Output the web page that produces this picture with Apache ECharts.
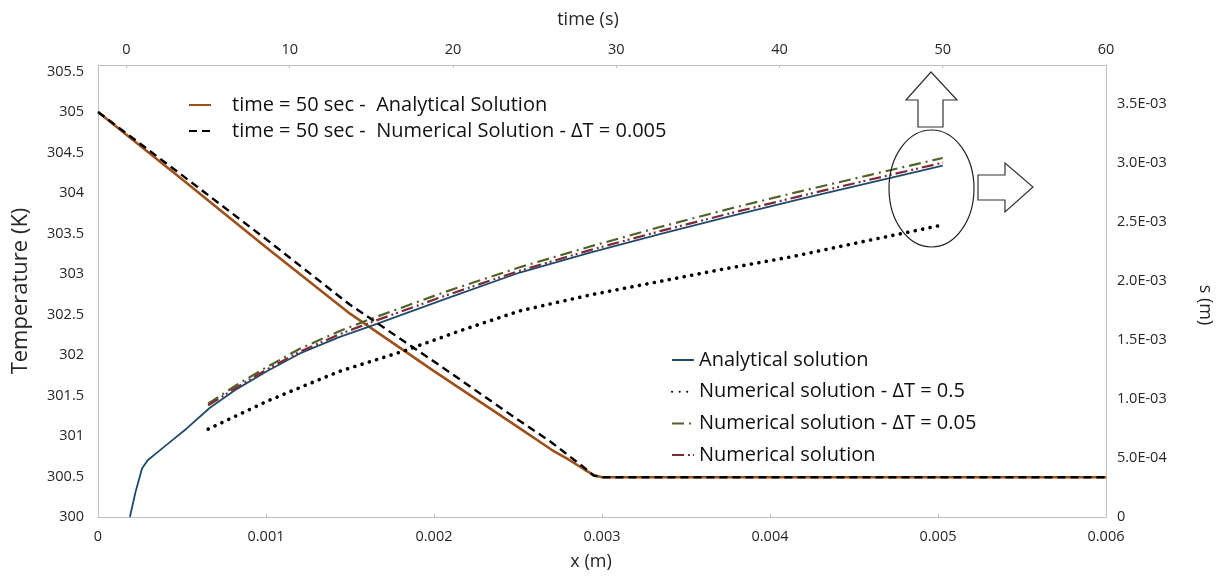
<!DOCTYPE html>
<html>
<head>
<meta charset="utf-8">
<script src="https://cdn.jsdelivr.net/npm/echarts@6/dist/echarts.min.js"></script>
<style>
html,body{margin:0;padding:0;background:#fff;}
#chart{width:1222px;height:576px;}
</style>
</head>
<body>
<div id="chart"></div>
<script>
// ---- Temperature profile at t = 50 s (bottom x axis, left y axis) ----
const xPos = [0, 0.0005, 0.001, 0.0015, 0.002, 0.0025, 0.0027, 0.0028, 0.0029, 0.00295, 0.003, 0.004, 0.005, 0.006];
const tempAnalytical = [305.0, 304.17, 303.33, 302.51, 301.80, 301.11, 300.83, 300.71, 300.58, 300.52, 300.49, 300.49, 300.49, 300.49];
const tempNumerical  = [305.0, 304.22, 303.43, 302.62, 301.92, 301.20, 300.92, 300.76, 300.60, 300.51, 300.49, 300.49, 300.49, 300.49];

// ---- Interface position s(t) (top x axis, right y axis) ----
const timeAnalytical = [0.21, 0.55, 0.95, 1.3, 1.87, 2.66, 3.71, 5.11, 6.77, 8.6, 10.62, 13.07, 14.91, 19.5, 24.09, 28.4, 32.67, 36.95, 41.2, 45.5, 50];
const sAnalytical = [0, 0.00021, 0.00041, 0.00048, 0.000545, 0.000634, 0.000752, 0.000925, 0.001085, 0.001234, 0.001385, 0.001525, 0.001614, 0.001845, 0.00207, 0.002239, 0.002395, 0.002545, 0.00269, 0.00283, 0.002974];

const timeNum = [5.0, 6.77, 8.6, 10.62, 13.07, 14.91, 19.5, 24.09, 28.4, 32.67, 36.95, 41.2, 45.5, 50];
const sNum005 = [0.00096, 0.00112, 0.00127, 0.001425, 0.001575, 0.001675, 0.001905, 0.002115, 0.00229, 0.002455, 0.00261, 0.002755, 0.002895, 0.00304];
const sNumerical = [0.000945, 0.0011, 0.00125, 0.0014, 0.001548, 0.001645, 0.001873, 0.002085, 0.00226, 0.00242, 0.00257, 0.002715, 0.002855, 0.0030];

const timeNum05 = [5.0, 8.6, 11.85, 13.07, 16.93, 20.5, 24.09, 28.4, 32.5, 36.6, 40.8, 45.4, 49.8];
const sNum05 = [0.000744, 0.00098, 0.001166, 0.001234, 0.001403, 0.00158, 0.001745, 0.00188, 0.00199, 0.0021, 0.002205, 0.00234, 0.002467];

// ---- tick labels ----
const xTicks = [0, 0.001, 0.002, 0.003, 0.004, 0.005, 0.006];
const timeTicks = [0, 10, 20, 30, 40, 50, 60];
const tempTicks = [300, 300.5, 301, 301.5, 302, 302.5, 303, 303.5, 304, 304.5, 305, 305.5];
const sTicks = [0, 0.0005, 0.001, 0.0015, 0.002, 0.0025, 0.003, 0.0035];

const zip = (a, b) => a.map((v, i) => [v, b[i]]);
function sci(v) {
  if (Math.abs(v) < 1e-12) return '0';
  const e = Math.floor(Math.log10(v) + 1e-9);
  const m = v / Math.pow(10, e);
  return m.toFixed(1) + 'E-' + String(-e).padStart(2, '0');
}

const FONT = '"Open Sans", "Noto Sans", sans-serif';
const TXT = '#262626';
const AXC = '#BFBFBF';

const chart = echarts.init(document.getElementById('chart'), null, {renderer: 'canvas'});
const option = {
  backgroundColor: '#ffffff',
  animation: false,
  textStyle: {fontFamily: FONT},
  grid: {left: 98, right: 116, top: 65, bottom: 58, containLabel: false},
  xAxis: [
    {
      type: 'value', position: 'bottom', min: 0, max: 0.006,
      name: 'x (m)', nameLocation: 'middle', nameGap: 36,
      nameTextStyle: {fontSize: 18, color: TXT, fontFamily: FONT, padding: [0, 22, 0, 0]},
      axisLine: {show: true, onZero: false, lineStyle: {color: AXC, width: 1}},
      axisTick: {show: true, inside: true, length: 3, customValues: xTicks, lineStyle: {color: AXC}},
      axisLabel: {customValues: xTicks, margin: 12, fontSize: 14.5, color: TXT, fontFamily: FONT,
        formatter: v => (Math.abs(v) < 1e-12 ? '0' : v.toFixed(3))},
      splitLine: {show: false}
    },
    {
      type: 'value', position: 'top', min: -1.745, max: 60,
      name: 'time (s)', nameLocation: 'middle', nameGap: 36,
      nameTextStyle: {fontSize: 18, color: TXT, fontFamily: FONT, padding: [0, 28, 0, 0]},
      axisLine: {show: true, onZero: false, lineStyle: {color: AXC, width: 1}},
      axisTick: {show: true, inside: true, length: 3, customValues: timeTicks, lineStyle: {color: AXC}},
      axisLabel: {customValues: timeTicks, margin: 8, fontSize: 14.5, color: TXT, fontFamily: FONT},
      splitLine: {show: false}
    }
  ],
  yAxis: [
    {
      type: 'value', position: 'left', min: 300, max: 305.58,
      name: 'Temperature (K)', nameLocation: 'middle', nameGap: 66, nameRotate: 90,
      nameTextStyle: {fontSize: 22, color: TXT, fontFamily: FONT},
      axisLine: {show: true, onZero: false, lineStyle: {color: AXC, width: 1}},
      axisTick: {show: false},
      axisLabel: {customValues: tempTicks, margin: 14, fontSize: 14.5, color: TXT, fontFamily: FONT},
      splitLine: {show: false}
    },
    {
      type: 'value', position: 'right', min: 0, max: 0.003827,
      name: 's (m)', nameLocation: 'middle', nameGap: 90, nameRotate: -90,
      nameTextStyle: {fontSize: 18, color: TXT, fontFamily: FONT, padding: [0, 0, 0, 28]},
      axisLine: {show: true, onZero: false, lineStyle: {color: AXC, width: 1}},
      axisTick: {show: false},
      axisLabel: {customValues: sTicks, margin: 11, fontSize: 14.5, color: TXT, fontFamily: FONT, formatter: sci},
      splitLine: {show: false}
    }
  ],
  legend: [
    {
      data: ['time = 50 sec -  Analytical Solution', 'time = 50 sec -  Numerical Solution - ΔT = 0.005'],
      orient: 'vertical', left: 183, top: 89, itemWidth: 22, itemHeight: 12, itemGap: 4,
      itemStyle: {opacity: 0},
      textStyle: {fontSize: 20, color: '#111', fontFamily: FONT, lineHeight: 22, padding: [0, 0, 0, 16]}
    },
    {
      data: ['Analytical solution', 'Numerical solution - ΔT = 0.5', 'Numerical solution - ΔT = 0.05', 'Numerical solution'],
      orient: 'vertical', left: 666, top: 344, itemWidth: 22, itemHeight: 12, itemGap: 9.7,
      itemStyle: {opacity: 0},
      textStyle: {fontSize: 20, color: '#111', fontFamily: FONT, lineHeight: 22}
    }
  ],
  series: [
    {
      name: 'time = 50 sec -  Analytical Solution', type: 'line', xAxisIndex: 0, yAxisIndex: 0,
      data: zip(xPos, tempAnalytical), showSymbol: false, symbol: 'none', smooth: false,
      lineStyle: {color: '#A0501C', width: 2.6}, itemStyle: {color: '#A0501C'}, z: 3
    },
    {
      name: 'time = 50 sec -  Numerical Solution - ΔT = 0.005', type: 'line', xAxisIndex: 0, yAxisIndex: 0,
      data: zip(xPos, tempNumerical), showSymbol: false, symbol: 'none', smooth: false,
      lineStyle: {color: '#000', width: 2.4, type: [8, 5]}, itemStyle: {color: '#000'}, z: 4
    },
    {
      name: 'Analytical solution', type: 'line', xAxisIndex: 1, yAxisIndex: 1,
      data: zip(timeAnalytical, sAnalytical), showSymbol: false, symbol: 'none', smooth: false,
      lineStyle: {color: '#1F4A6E', width: 1.8}, itemStyle: {color: '#1F4A6E'}, z: 3
    },
    {
      name: 'Numerical solution - ΔT = 0.5', type: 'line', xAxisIndex: 1, yAxisIndex: 1,
      data: zip(timeNum05, sNum05), showSymbol: false, symbol: 'none', smooth: false,
      lineStyle: {color: '#000', width: 3.6, type: [0.1, 7.5], cap: 'round'}, itemStyle: {color: '#000'}, z: 3
    },
    {
      name: 'Numerical solution - ΔT = 0.05', type: 'line', xAxisIndex: 1, yAxisIndex: 1,
      data: zip(timeNum, sNum005), showSymbol: false, symbol: 'none', smooth: false,
      lineStyle: {color: '#4F6228', width: 2.2, type: [12, 5, 2, 5]}, itemStyle: {color: '#4F6228'}, z: 4
    },
    {
      name: 'Numerical solution', type: 'line', xAxisIndex: 1, yAxisIndex: 1,
      data: zip(timeNum, sNumerical), showSymbol: false, symbol: 'none', smooth: false,
      lineStyle: {color: '#7F2A34', width: 2.2, type: [12, 4, 2, 3, 2, 4]}, itemStyle: {color: '#7F2A34'}, z: 5
    }
  ],
  graphic: [
    {type: 'ellipse', shape: {cx: 931.5, cy: 188.5, rx: 42.5, ry: 58.5},
     style: {fill: 'none', stroke: '#222', lineWidth: 1.2}, z: 10},
    {type: 'polygon', shape: {points: [[931, 72], [957, 100], [943, 100], [943, 127], [918, 127], [918, 100], [906, 100]]},
     style: {fill: '#fff', stroke: '#333', lineWidth: 1.2}, z: 10},
    {type: 'polygon', shape: {points: [[978, 175], [1005, 175], [1005, 163], [1033, 187], [1005, 212], [1005, 200], [978, 200]]},
     style: {fill: '#fff', stroke: '#333', lineWidth: 1.2}, z: 10}
  ]
};
chart.setOption(option);
</script>
</body>
</html>
